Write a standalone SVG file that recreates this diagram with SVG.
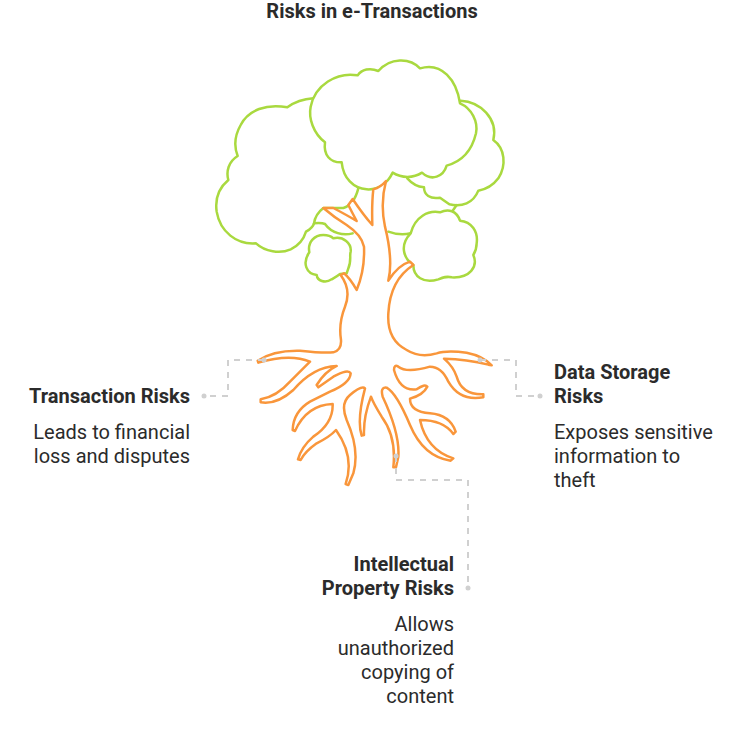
<svg xmlns="http://www.w3.org/2000/svg" width="744" height="732" viewBox="0 0 744 732">
<style>
text{font-family:Roboto,"Liberation Sans",sans-serif;font-size:20px;fill:#2b2b2b}
.b{font-weight:700}
.e{text-anchor:end}
.green{fill:none;stroke:#a9d93f;stroke-width:7.5;stroke-linejoin:round;stroke-linecap:round}
.crown{fill:#fff;stroke:#a9d93f;stroke-width:7.5;stroke-linejoin:round;stroke-linecap:round}
.orange{fill:#fff;stroke:#f9963b;stroke-width:7.5;stroke-linejoin:round;stroke-linecap:round}
.conn{fill:none;stroke:#d0d0d0;stroke-width:2;stroke-dasharray:6 6}
.dot{fill:#d0d0d0}
</style>
<rect width="744" height="732" fill="#fff"/>
<text class="b" x="372" y="18" text-anchor="middle">Risks in e-Transactions</text>
<g id="tree" transform="translate(200 50) scale(.33333)">
<path class="crown" d="M340,145Q295,148 262,172C200,160 145,180 122,225C105,255 102,290 113,318C85,335 78,365 85,390C55,415 45,450 50,485C60,545 110,585 168,580C195,605 240,612 272,598C300,585 312,565 318,545C335,535 340,528 342,520C345,500 352,488 370,474L430,474Q462,465 475,415Z"/>
<path class="green" d="M342,520Q365,518 375,522C395,550 430,558 458,550"/>
<path class="crown" d="M782,152C840,155 895,205 880,270C915,295 920,345 895,385C880,405 860,418 835,422C820,460 785,472 748,463L720,443C690,448 672,435 672,412C650,410 635,400 622,385L600,300Z"/>
<path class="green" d="M770,465L758,482M565,545Q600,558 632,550"/>
<path class="crown" d="M375,277C340,250 325,205 332,170C345,105 410,65 473,76C485,58 510,52 535,63C570,22 630,22 660,55C725,35 770,90 780,160C815,175 835,215 828,250C815,305 785,335 740,347C730,380 695,395 666,368C640,385 605,385 578,368C560,405 530,420 500,418C460,415 430,385 425,337C390,338 370,315 375,277Z"/>
<path class="crown" d="M640,645C610,625 598,585 632,550C645,500 685,480 720,487C745,475 770,482 780,512C815,515 835,545 830,580C830,595 826,605 820,615C835,650 810,685 755,682C740,678 730,682 715,688C670,702 640,680 640,645Z"/>
<path class="crown" d="M420,672C410,680 400,685 395,688C375,702 352,692 350,675C320,672 305,640 328,607C322,575 345,555 370,555C385,555 395,560 400,565C430,558 455,580 452,605C448,615 455,635 445,655L440,670Z"/>
</g>
<g id="roots" transform="translate(190 260) scale(.33333)">
<path class="orange" d="M400,-156L430,-156Q470,-135 500,-117Q485,-145 475,-165L488,-183Q520,-135 547,-105Q545,-170 550,-212Q572,-218 588,-237Q570,-170 585,-100Q610,0 595,62Q625,15 660,5L670,15Q600,60 595,160Q590,240 650,270Q690,295 740,280Q770,270 830,278Q880,288 905,316L895,314Q830,297 762,296Q790,320 800,350Q815,405 880,403L880,412Q810,425 775,365Q755,320 720,320Q650,340 625,320Q612,312 612,330Q630,395 680,388Q705,370 712,380Q700,405 660,416Q660,455 720,460Q780,465 797,515L790,522Q760,480 690,480Q710,570 790,595L782,602Q700,590 660,495Q620,400 590,383Q570,380 578,410Q630,520 625,590L618,622L610,622Q620,530 575,470Q550,430 543,410Q520,470 522,525L515,527Q500,480 525,385Q515,375 480,405Q450,430 470,480Q510,570 490,640L475,675L467,672Q495,590 438,510Q420,530 380,550Q345,575 332,600L324,598Q335,560 370,530Q430,490 428,432Q350,435 315,513L308,510Q310,455 360,425L420,395Q480,370 482,340Q475,325 430,350L385,382L380,375Q405,335 440,318Q370,320 310,390Q260,435 212,427L212,418Q260,410 300,365L360,305Q300,280 205,308L203,302Q250,270 330,272Q400,280 430,277Q455,270 453,240Q445,190 465,140Q485,90 452,45L462,40Q480,55 500,90Q525,30 522,-40Q515,-75 470,-105Q430,-130 400,-156Z"/>
</g>
<g id="connectors">
<path class="conn" d="M264 360H228V396H203"/>
<circle class="dot" cx="264" cy="360" r="2.5"/><circle class="dot" cx="204" cy="396" r="2.5"/>
<path class="conn" d="M480 360H516V396H540"/>
<circle class="dot" cx="480" cy="360" r="2.5"/><circle class="dot" cx="540" cy="396" r="2.5"/>
<path class="conn" d="M396 456V480H468V588"/>
<circle class="dot" cx="396" cy="456" r="2.5"/><circle class="dot" cx="468" cy="588" r="2.5"/>
</g>
<g id="node-transaction">
<text class="b e" x="190" y="403">Transaction Risks</text>
<text class="e" x="190" y="439">Leads to financial</text>
<text class="e" x="190" y="463">loss and disputes</text>
</g>
<g id="node-data">
<text class="b" x="554" y="379">Data Storage</text>
<text class="b" x="554" y="403">Risks</text>
<text x="554" y="439">Exposes sensitive</text>
<text x="554" y="463">information to</text>
<text x="554" y="487">theft</text>
</g>
<g id="node-ip">
<text class="b e" x="454" y="571">Intellectual</text>
<text class="b e" x="454" y="595">Property Risks</text>
<text class="e" x="454" y="631">Allows</text>
<text class="e" x="454" y="655">unauthorized</text>
<text class="e" x="454" y="679">copying of</text>
<text class="e" x="454" y="703">content</text>
</g>
</svg>
